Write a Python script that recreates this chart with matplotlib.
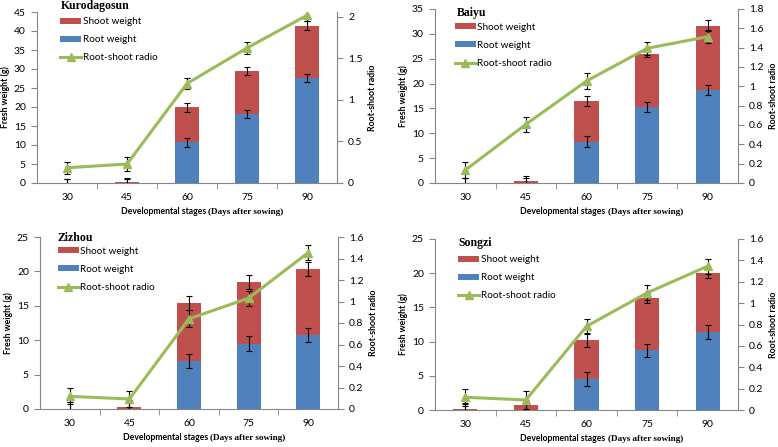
import matplotlib
matplotlib.use("Agg")
import matplotlib.pyplot as plt
from matplotlib.offsetbox import TextArea, HPacker, AnchoredOffsetbox
import numpy as np

# x categories (days after sowing)
days = ["30", "45", "60", "75", "90"]

# Kurodagosun
kuro_root = [0.0, 0.0, 10.7, 18.1, 27.7]
kuro_shoot = [0.05, 0.3, 9.2, 11.4, 13.7]
kuro_root_err = [1.0, 1.0, 1.1, 1.0, 1.0]
kuro_total_err = [0.9, 0.9, 1.1, 1.1, 1.2]
kuro_ratio = [0.184, 0.228, 1.198, 1.627, 2.02]
kuro_ratio_err = [0.07, 0.08, 0.07, 0.07, 0.07]

# Baiyu
baiyu_root = [0.05, 0.1, 8.3, 15.2, 18.8]
baiyu_shoot = [0.05, 0.4, 8.1, 10.8, 12.8]
baiyu_root_err = [1.0, 1.0, 1.1, 1.0, 1.0]
baiyu_total_err = [0.9, 1.0, 1.0, 0.6, 1.1]
baiyu_ratio = [0.134, 0.607, 1.055, 1.393, 1.514]
baiyu_ratio_err = [0.08, 0.08, 0.08, 0.07, 0.07]

# Zizhou
zizhou_root = [0.0, 0.0, 7.0, 9.5, 10.8]
zizhou_shoot = [0.05, 0.25, 8.4, 9.0, 9.6]
zizhou_root_err = [1.0, 1.0, 1.0, 1.05, 1.0]
zizhou_total_err = [0.9, 1.0, 1.0, 1.0, 1.0]
zizhou_ratio = [0.118, 0.093, 0.839, 1.031, 1.454]
zizhou_ratio_err = [0.075, 0.075, 0.08, 0.07, 0.07]

# Songzi
songzi_root = [0.0, 0.0, 4.5, 8.7, 11.4]
songzi_shoot = [0.1, 0.7, 5.7, 7.7, 8.6]
songzi_root_err = [1.0, 1.0, 1.0, 1.0, 1.05]
songzi_total_err = [0.8, 0.8, 1.0, 0.75, 0.75]
songzi_ratio = [0.119, 0.094, 0.783, 1.096, 1.346]
songzi_ratio_err = [0.08, 0.08, 0.07, 0.07, 0.07]

RED = "#C0504D"
BLUE = "#4F81BD"
GREEN = "#9BBB59"
GRAY = "#868686"
SANS = "Lato"
SERIF = "Liberation Serif"

plt.rcParams["font.family"] = SANS
plt.rcParams["font.size"] = 7

W, H = 778, 447
fig = plt.figure(figsize=(W / 100, H / 100), dpi=100)


def px_axes(left, top, right, bottom):
    return fig.add_axes([left / W, 1 - bottom / H, (right - left) / W, (bottom - top) / H])


def draw_panel(box, name, root, shoot, root_err, total_err, ratio, ratio_err,
               ymax, ystep, rmax, rstep, rtop, title_xy, leg_xy):
    ax = px_axes(*box)
    x = np.arange(len(days))
    total = np.array(root) + np.array(shoot)
    ekw = dict(fmt="none", ecolor="black", elinewidth=0.8, capsize=2.2, capthick=0.8)
    hs = ax.bar(x, shoot, 0.4, bottom=root, color=RED, label="Shoot weight", zorder=2)
    hr = ax.bar(x, root, 0.4, color=BLUE, label="Root weight", zorder=2)
    ax.errorbar(x, root, yerr=root_err, zorder=3, **ekw)
    ax.errorbar(x, total, yerr=total_err, zorder=3, **ekw)
    ax.set_xlim(-0.5, len(days) - 0.5)
    ax.set_ylim(0, ymax)
    ax.set_yticks(np.arange(0, ymax + 0.01, ystep))
    ax.set_xticks(x)
    ax.set_xticklabels(days)
    ax.set_xticks(np.arange(0.5, len(days) - 0.5, 1), minor=True)
    ax.tick_params(axis="x", which="major", length=0, pad=7, labelsize=7.5)
    ax.tick_params(axis="x", which="minor", length=4, color=GRAY, direction="out")
    ax.tick_params(axis="y", length=4, color=GRAY, labelsize=7.5, pad=4)
    for s in ["top", "right"]:
        ax.spines[s].set_visible(False)
    for s in ["left", "bottom"]:
        ax.spines[s].set_color(GRAY)
    ax.set_ylabel("Fresh weight (g)", fontweight="bold", fontsize=6.3, labelpad=3)

    ax2 = ax.twinx()
    hl, = ax2.plot(x, ratio, color=GREEN, lw=2.2, marker="^", ms=6,
                   label="Root-shoot radio", zorder=4)
    ax2.errorbar(x, ratio, yerr=ratio_err, zorder=3, **ekw)
    ax2.set_ylim(0, rtop)
    ticks = np.arange(0, rmax + 0.001, rstep)
    ax2.set_yticks(ticks)
    ax2.set_yticklabels([("%g" % t) for t in ticks])
    ax2.tick_params(axis="y", length=4, color=GRAY, labelsize=7.5, pad=4)
    for s in ["top", "left", "bottom"]:
        ax2.spines[s].set_visible(False)
    ax2.spines["right"].set_color(GRAY)
    ax2.set_ylabel("Root-shoot radio", fontweight="bold", fontsize=6.3, labelpad=4)

    ax2.text(title_xy[0], title_xy[1], name, transform=ax2.transAxes, family=SERIF,
             fontweight="bold", fontsize=8.5, ha="left", va="center")
    ax2.legend([hs, hr, hl], ["Shoot weight", "Root weight", "Root-shoot radio"],
               loc="upper left", bbox_to_anchor=leg_xy, frameon=False, fontsize=7.2,
               handlelength=2.1, handleheight=0.55, labelspacing=0.9, handletextpad=0.15,
               borderaxespad=0, borderpad=0)

    lab = HPacker(children=[
        TextArea("Developmental stages ", textprops=dict(family=SANS, fontweight="bold", fontsize=6.2)),
        TextArea("(Days after sowing)", textprops=dict(family=SERIF, fontweight="bold", fontsize=6.6)),
    ], align="baseline", pad=0, sep=0)
    box_lab = AnchoredOffsetbox(loc="center", child=lab, frameon=False,
                                bbox_to_anchor=(0.55, -0.165), bbox_transform=ax.transAxes,
                                borderpad=0)
    ax2.add_artist(box_lab)


draw_panel((37, 12, 337, 183), "Kurodagosun", kuro_root, kuro_shoot, kuro_root_err,
           kuro_total_err, kuro_ratio, kuro_ratio_err, 45, 5, 2, 0.5, 2.06,
           (0.08, 1.035), (0.077, 0.97))
draw_panel((435, 9, 738, 183), "Baiyu", baiyu_root, baiyu_shoot, baiyu_root_err,
           baiyu_total_err, baiyu_ratio, baiyu_ratio_err, 35, 5, 1.8, 0.2, 1.8,
           (0.073, 0.977), (0.066, 0.92))
draw_panel((40, 237, 338, 409), "Zizhou", zizhou_root, zizhou_shoot, zizhou_root_err,
           zizhou_total_err, zizhou_ratio, zizhou_ratio_err, 25, 5, 1.6, 0.2, 1.6,
           (0.06, 0.995), (0.06, 0.942))
draw_panel((435, 239, 738, 410), "Songzi", songzi_root, songzi_shoot, songzi_root_err,
           songzi_total_err, songzi_ratio, songzi_ratio_err, 25, 5, 1.6, 0.2, 1.6,
           (0.076, 0.977), (0.076, 0.906))

fig.savefig("out.png", dpi=100)
